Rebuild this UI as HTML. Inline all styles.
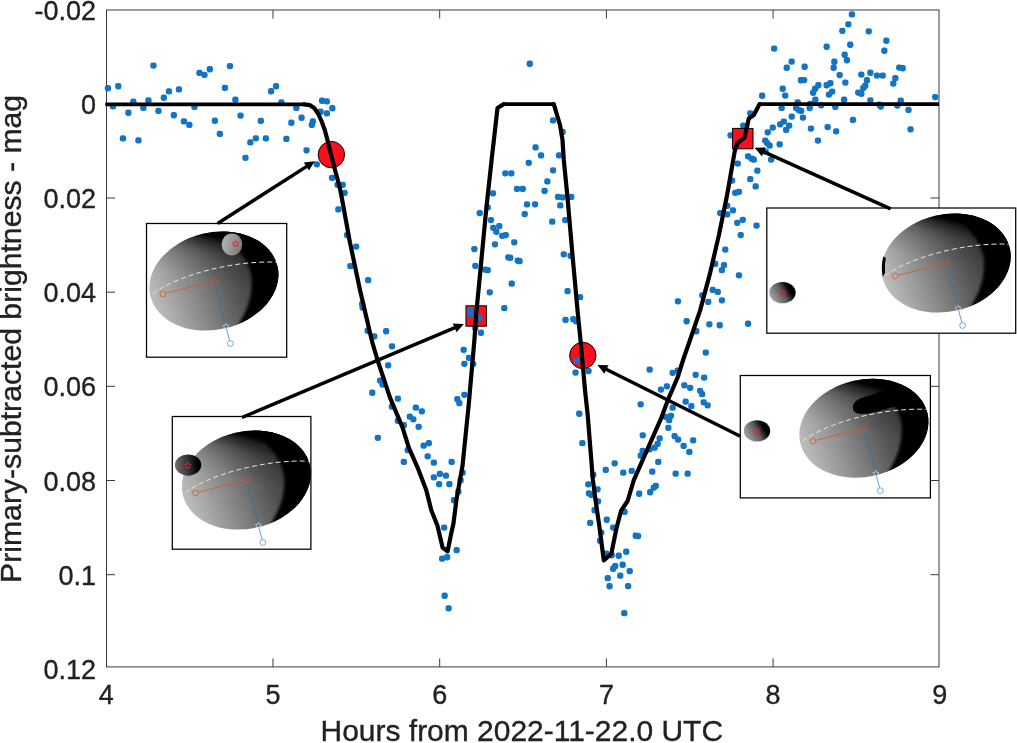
<!DOCTYPE html>
<html lang="en"><head><meta charset="utf-8"><title>Primary-subtracted brightness light curve</title>
<style>html,body{margin:0;padding:0;background:#fff}body{width:1017px;height:743px;overflow:hidden}svg{display:block}text{font-family:"Liberation Sans",Arial,Helvetica,sans-serif;fill:#222;stroke:#222;stroke-width:0.35px}</style></head><body>
<svg width="1017" height="743" viewBox="0 0 1017 743">
<defs>
<linearGradient id="gBody" gradientUnits="userSpaceOnUse" x1="-64" y1="9" x2="42" y2="-7">
<stop offset="0" stop-color="#bebebe"/><stop offset="0.45" stop-color="#808080"/><stop offset="0.75" stop-color="#565656"/><stop offset="1" stop-color="#3c3c3c"/>
</linearGradient>
<linearGradient id="gTop" gradientUnits="userSpaceOnUse" x1="-1" y1="2" x2="20" y2="-40">
<stop offset="0" stop-color="#000" stop-opacity="0"/><stop offset="0.43" stop-color="#000" stop-opacity="0.12"/><stop offset="0.64" stop-color="#000" stop-opacity="0.26"/><stop offset="0.85" stop-color="#000" stop-opacity="0.6"/><stop offset="0.98" stop-color="#000" stop-opacity="1"/>
</linearGradient>
<clipPath id="cBody"><ellipse cx="0" cy="0" rx="65.3" ry="48.5" transform="rotate(-13)"/></clipPath>
<filter id="blur1" x="-20%" y="-20%" width="140%" height="140%"><feGaussianBlur stdDeviation="1.6"/></filter>
<g id="body">
<ellipse cx="0" cy="0" rx="65.3" ry="48.5" transform="rotate(-13)" fill="url(#gBody)"/>
<ellipse cx="0" cy="0" rx="65.3" ry="48.5" transform="rotate(-13)" fill="url(#gTop)"/>
<g clip-path="url(#cBody)"><path d="M -2 -60 C 14 -44, 38 -22, 38 0 C 38 22, 30 36, 19 52 L 90 60 L 90 -70 Z" fill="#000" filter="url(#blur1)"/></g>
</g>
<g id="deco" fill="none">
<path d="M -61 12.5 C -38 -5, 18 -21, 62.5 -18.9" stroke="#e4e4e4" stroke-width="1" stroke-dasharray="5 3"/>
<line x1="-48.2" y1="12.1" x2="-2.8" y2="0.7" stroke="#d95319" stroke-width="0.7"/>
<circle cx="-51" cy="12.8" r="2.9" stroke="#d95319" stroke-width="0.7"/>
<circle cx="0" cy="0" r="2.9" stroke="#d95319" stroke-width="0.7"/>
<line x1="0.7" y1="2.8" x2="15.7" y2="59.6" stroke="#1f77c4" stroke-width="0.7"/>
<circle cx="16.4" cy="62.4" r="2.9" stroke="#3a8ad0" stroke-width="0.7"/>
<path d="M12 42.2 l0.9 2 2.2 0.2 -1.6 1.5 0.5 2.2 -2 -1.1 -2 1.1 0.5 -2.2 -1.6 -1.5 2.2 -0.2z" stroke="#d8d8d8" stroke-width="0.7"/>
</g>
<path id="rstar" d="M0 -3.3 l0.95 2 2.2 0.3 -1.6 1.55 0.4 2.2 -1.95 -1.05 -1.95 1.05 0.4 -2.2 -1.6 -1.55 2.2 -0.3z" fill="none" stroke="#e02030" stroke-width="0.9"/>
<linearGradient id="gS1" x1="0" y1="0.3" x2="1" y2="0.6"><stop offset="0" stop-color="#b4b4b4"/><stop offset="1" stop-color="#7a7a7a"/></linearGradient>
<linearGradient id="gS2" x1="0" y1="0.75" x2="1" y2="0.3"><stop offset="0" stop-color="#acacac"/><stop offset="0.5" stop-color="#5e5e5e"/><stop offset="0.66" stop-color="#2a2a2a"/><stop offset="0.78" stop-color="#000"/></linearGradient>
<linearGradient id="gS3" x1="0" y1="0.5" x2="1" y2="0.4"><stop offset="0" stop-color="#6e6e6e"/><stop offset="0.5" stop-color="#333"/><stop offset="0.85" stop-color="#000"/></linearGradient>
</defs>
<rect x="0" y="0" width="1017" height="743" fill="#fff"/>
<g stroke="#3a3a3a" stroke-width="1" fill="none">
<rect x="106.5" y="10.0" width="832.5" height="656.9"/>
<line x1="273.0" y1="666.9" x2="273.0" y2="658.4"/>
<line x1="273.0" y1="10.0" x2="273.0" y2="18.5"/>
<line x1="439.7" y1="666.9" x2="439.7" y2="658.4"/>
<line x1="439.7" y1="10.0" x2="439.7" y2="18.5"/>
<line x1="606.4" y1="666.9" x2="606.4" y2="658.4"/>
<line x1="606.4" y1="10.0" x2="606.4" y2="18.5"/>
<line x1="773.1" y1="666.9" x2="773.1" y2="658.4"/>
<line x1="773.1" y1="10.0" x2="773.1" y2="18.5"/>
<line x1="106.5" y1="103.8" x2="115.0" y2="103.8"/>
<line x1="939.0" y1="103.8" x2="930.5" y2="103.8"/>
<line x1="106.5" y1="198.0" x2="115.0" y2="198.0"/>
<line x1="939.0" y1="198.0" x2="930.5" y2="198.0"/>
<line x1="106.5" y1="292.2" x2="115.0" y2="292.2"/>
<line x1="939.0" y1="292.2" x2="930.5" y2="292.2"/>
<line x1="106.5" y1="386.3" x2="115.0" y2="386.3"/>
<line x1="939.0" y1="386.3" x2="930.5" y2="386.3"/>
<line x1="106.5" y1="480.5" x2="115.0" y2="480.5"/>
<line x1="939.0" y1="480.5" x2="930.5" y2="480.5"/>
<line x1="106.5" y1="574.7" x2="115.0" y2="574.7"/>
<line x1="939.0" y1="574.7" x2="930.5" y2="574.7"/>
</g>
<g font-size="27.0">
<text x="106.3" y="703.6" text-anchor="middle">4</text>
<text x="273.0" y="703.6" text-anchor="middle">5</text>
<text x="439.7" y="703.6" text-anchor="middle">6</text>
<text x="606.4" y="703.6" text-anchor="middle">7</text>
<text x="773.1" y="703.6" text-anchor="middle">8</text>
<text x="939.8" y="703.6" text-anchor="middle">9</text>
<text x="96.0" y="19.6" text-anchor="end">-0.02</text>
<text x="96.0" y="113.8" text-anchor="end">0</text>
<text x="96.0" y="208.0" text-anchor="end">0.02</text>
<text x="96.0" y="302.2" text-anchor="end">0.04</text>
<text x="96.0" y="396.3" text-anchor="end">0.06</text>
<text x="96.0" y="490.5" text-anchor="end">0.08</text>
<text x="96.0" y="584.7" text-anchor="end">0.1</text>
<text x="96.0" y="678.9" text-anchor="end">0.12</text>
</g>
<text x="521.8" y="740.6" font-size="30" text-anchor="middle" textLength="402.5" lengthAdjust="spacingAndGlyphs">Hours from 2022-11-22.0 UTC</text>
<text transform="translate(21.2 338.9) rotate(-90)" font-size="30" text-anchor="middle" textLength="488" lengthAdjust="spacingAndGlyphs">Primary-subtracted brightness - mag</text>
<g fill="#1374c4">
<rect x="104.8" y="85.1" width="6.3" height="6.3" rx="2.4"/>
<rect x="115.1" y="83.1" width="6.3" height="6.3" rx="2.4"/>
<rect x="109.8" y="103.3" width="6.3" height="6.3" rx="2.4"/>
<rect x="119.8" y="135.3" width="6.3" height="6.3" rx="2.4"/>
<rect x="125.2" y="109.6" width="6.3" height="6.3" rx="2.4"/>
<rect x="130.2" y="98.6" width="6.3" height="6.3" rx="2.4"/>
<rect x="135.3" y="137.3" width="6.3" height="6.3" rx="2.4"/>
<rect x="140.2" y="104.8" width="6.3" height="6.3" rx="2.4"/>
<rect x="145.3" y="97.3" width="6.3" height="6.3" rx="2.4"/>
<rect x="150.3" y="62.4" width="6.3" height="6.3" rx="2.4"/>
<rect x="155.3" y="107.8" width="6.3" height="6.3" rx="2.4"/>
<rect x="160.7" y="94.6" width="6.3" height="6.3" rx="2.4"/>
<rect x="165.8" y="88.3" width="6.3" height="6.3" rx="2.4"/>
<rect x="170.7" y="112.1" width="6.3" height="6.3" rx="2.4"/>
<rect x="175.8" y="86.3" width="6.3" height="6.3" rx="2.4"/>
<rect x="180.8" y="118.3" width="6.3" height="6.3" rx="2.4"/>
<rect x="186.2" y="121.8" width="6.3" height="6.3" rx="2.4"/>
<rect x="191.3" y="103.8" width="6.3" height="6.3" rx="2.4"/>
<rect x="196.3" y="69.8" width="6.3" height="6.3" rx="2.4"/>
<rect x="201.3" y="71.8" width="6.3" height="6.3" rx="2.4"/>
<rect x="206.7" y="66.1" width="6.3" height="6.3" rx="2.4"/>
<rect x="211.7" y="117.6" width="6.3" height="6.3" rx="2.4"/>
<rect x="216.7" y="130.8" width="6.3" height="6.3" rx="2.4"/>
<rect x="221.8" y="84.8" width="6.3" height="6.3" rx="2.4"/>
<rect x="226.8" y="62.9" width="6.3" height="6.3" rx="2.4"/>
<rect x="232.2" y="96.6" width="6.3" height="6.3" rx="2.4"/>
<rect x="237.4" y="112.4" width="6.3" height="6.3" rx="2.4"/>
<rect x="242.3" y="154.7" width="6.3" height="6.3" rx="2.4"/>
<rect x="247.2" y="139.3" width="6.3" height="6.3" rx="2.4"/>
<rect x="252.7" y="135.2" width="6.3" height="6.3" rx="2.4"/>
<rect x="257.7" y="117.8" width="6.3" height="6.3" rx="2.4"/>
<rect x="262.7" y="135.3" width="6.3" height="6.3" rx="2.4"/>
<rect x="267.9" y="88.1" width="6.3" height="6.3" rx="2.4"/>
<rect x="272.9" y="83.1" width="6.3" height="6.3" rx="2.4"/>
<rect x="278.2" y="99.3" width="6.3" height="6.3" rx="2.4"/>
<rect x="283.2" y="135.8" width="6.3" height="6.3" rx="2.4"/>
<rect x="288.2" y="119.6" width="6.3" height="6.3" rx="2.4"/>
<rect x="293.2" y="104.8" width="6.3" height="6.3" rx="2.4"/>
<rect x="298.4" y="114.6" width="6.3" height="6.3" rx="2.4"/>
<rect x="303.4" y="147.2" width="6.3" height="6.3" rx="2.4"/>
<rect x="308.7" y="121.8" width="6.3" height="6.3" rx="2.4"/>
<rect x="309.7" y="118.3" width="6.3" height="6.3" rx="2.4"/>
<rect x="313.7" y="161.2" width="6.3" height="6.3" rx="2.4"/>
<rect x="317.4" y="108.6" width="6.3" height="6.3" rx="2.4"/>
<rect x="318.9" y="97.6" width="6.3" height="6.3" rx="2.4"/>
<rect x="323.7" y="98.3" width="6.3" height="6.3" rx="2.4"/>
<rect x="323.7" y="110.3" width="6.3" height="6.3" rx="2.4"/>
<rect x="329.2" y="105.1" width="6.3" height="6.3" rx="2.4"/>
<rect x="328.9" y="174.8" width="6.3" height="6.3" rx="2.4"/>
<rect x="334.4" y="181.7" width="6.3" height="6.3" rx="2.4"/>
<rect x="339.6" y="181.7" width="6.3" height="6.3" rx="2.4"/>
<rect x="526.6" y="60.6" width="6.3" height="6.3" rx="2.4"/>
<rect x="549.9" y="117.3" width="6.3" height="6.3" rx="2.4"/>
<rect x="559.4" y="128.8" width="6.3" height="6.3" rx="2.4"/>
<rect x="532.4" y="144.3" width="6.3" height="6.3" rx="2.4"/>
<rect x="537.9" y="152.3" width="6.3" height="6.3" rx="2.4"/>
<rect x="555.9" y="152.3" width="6.3" height="6.3" rx="2.4"/>
<rect x="525.6" y="159.7" width="6.3" height="6.3" rx="2.4"/>
<rect x="549.9" y="167.2" width="6.3" height="6.3" rx="2.4"/>
<rect x="502.2" y="170.2" width="6.3" height="6.3" rx="2.4"/>
<rect x="508.2" y="170.2" width="6.3" height="6.3" rx="2.4"/>
<rect x="544.2" y="178.3" width="6.3" height="6.3" rx="2.4"/>
<rect x="848.8" y="11.3" width="6.3" height="6.3" rx="2.4"/>
<rect x="845.2" y="21.2" width="6.3" height="6.3" rx="2.4"/>
<rect x="839.2" y="27.7" width="6.3" height="6.3" rx="2.4"/>
<rect x="865.6" y="28.2" width="6.3" height="6.3" rx="2.4"/>
<rect x="883.2" y="37.6" width="6.3" height="6.3" rx="2.4"/>
<rect x="847.1" y="41.6" width="6.3" height="6.3" rx="2.4"/>
<rect x="823.5" y="43.6" width="6.3" height="6.3" rx="2.4"/>
<rect x="771.0" y="45.4" width="6.3" height="6.3" rx="2.4"/>
<rect x="881.2" y="47.6" width="6.3" height="6.3" rx="2.4"/>
<rect x="841.5" y="51.6" width="6.3" height="6.3" rx="2.4"/>
<rect x="843.8" y="57.1" width="6.3" height="6.3" rx="2.4"/>
<rect x="831.2" y="58.6" width="6.3" height="6.3" rx="2.4"/>
<rect x="788.5" y="58.5" width="6.3" height="6.3" rx="2.4"/>
<rect x="801.5" y="63.6" width="6.3" height="6.3" rx="2.4"/>
<rect x="783.6" y="64.6" width="6.3" height="6.3" rx="2.4"/>
<rect x="830.5" y="64.6" width="6.3" height="6.3" rx="2.4"/>
<rect x="896.1" y="64.4" width="6.3" height="6.3" rx="2.4"/>
<rect x="899.6" y="65.1" width="6.3" height="6.3" rx="2.4"/>
<rect x="867.2" y="69.6" width="6.3" height="6.3" rx="2.4"/>
<rect x="858.2" y="71.4" width="6.3" height="6.3" rx="2.4"/>
<rect x="836.5" y="71.9" width="6.3" height="6.3" rx="2.4"/>
<rect x="873.8" y="72.4" width="6.3" height="6.3" rx="2.4"/>
<rect x="879.6" y="72.4" width="6.3" height="6.3" rx="2.4"/>
<rect x="892.2" y="75.1" width="6.3" height="6.3" rx="2.4"/>
<rect x="797.8" y="77.1" width="6.3" height="6.3" rx="2.4"/>
<rect x="801.0" y="76.9" width="6.3" height="6.3" rx="2.4"/>
<rect x="863.8" y="77.1" width="6.3" height="6.3" rx="2.4"/>
<rect x="842.2" y="79.4" width="6.3" height="6.3" rx="2.4"/>
<rect x="827.2" y="80.1" width="6.3" height="6.3" rx="2.4"/>
<rect x="890.1" y="80.4" width="6.3" height="6.3" rx="2.4"/>
<rect x="815.2" y="82.1" width="6.3" height="6.3" rx="2.4"/>
<rect x="823.5" y="82.1" width="6.3" height="6.3" rx="2.4"/>
<rect x="862.1" y="82.6" width="6.3" height="6.3" rx="2.4"/>
<rect x="779.6" y="85.6" width="6.3" height="6.3" rx="2.4"/>
<rect x="812.0" y="85.6" width="6.3" height="6.3" rx="2.4"/>
<rect x="860.1" y="84.9" width="6.3" height="6.3" rx="2.4"/>
<rect x="829.0" y="88.4" width="6.3" height="6.3" rx="2.4"/>
<rect x="810.0" y="89.6" width="6.3" height="6.3" rx="2.4"/>
<rect x="855.1" y="89.4" width="6.3" height="6.3" rx="2.4"/>
<rect x="858.2" y="90.6" width="6.3" height="6.3" rx="2.4"/>
<rect x="825.8" y="91.4" width="6.3" height="6.3" rx="2.4"/>
<rect x="759.0" y="92.6" width="6.3" height="6.3" rx="2.4"/>
<rect x="782.1" y="92.4" width="6.3" height="6.3" rx="2.4"/>
<rect x="932.1" y="93.9" width="6.3" height="6.3" rx="2.4"/>
<rect x="812.2" y="96.4" width="6.3" height="6.3" rx="2.4"/>
<rect x="841.0" y="96.6" width="6.3" height="6.3" rx="2.4"/>
<rect x="867.2" y="97.2" width="6.3" height="6.3" rx="2.4"/>
<rect x="897.6" y="97.4" width="6.3" height="6.3" rx="2.4"/>
<rect x="794.5" y="99.2" width="6.3" height="6.3" rx="2.4"/>
<rect x="807.2" y="100.8" width="6.3" height="6.3" rx="2.4"/>
<rect x="818.0" y="102.2" width="6.3" height="6.3" rx="2.4"/>
<rect x="876.1" y="101.4" width="6.3" height="6.3" rx="2.4"/>
<rect x="877.6" y="103.4" width="6.3" height="6.3" rx="2.4"/>
<rect x="894.1" y="102.4" width="6.3" height="6.3" rx="2.4"/>
<rect x="832.2" y="103.8" width="6.3" height="6.3" rx="2.4"/>
<rect x="778.5" y="104.8" width="6.3" height="6.3" rx="2.4"/>
<rect x="793.0" y="104.8" width="6.3" height="6.3" rx="2.4"/>
<rect x="806.5" y="104.9" width="6.3" height="6.3" rx="2.4"/>
<rect x="795.6" y="106.9" width="6.3" height="6.3" rx="2.4"/>
<rect x="798.0" y="107.8" width="6.3" height="6.3" rx="2.4"/>
<rect x="905.4" y="106.8" width="6.3" height="6.3" rx="2.4"/>
<rect x="747.1" y="110.2" width="6.3" height="6.3" rx="2.4"/>
<rect x="788.6" y="113.4" width="6.3" height="6.3" rx="2.4"/>
<rect x="799.8" y="114.4" width="6.3" height="6.3" rx="2.4"/>
<rect x="849.8" y="116.8" width="6.3" height="6.3" rx="2.4"/>
<rect x="780.6" y="118.4" width="6.3" height="6.3" rx="2.4"/>
<rect x="777.0" y="121.2" width="6.3" height="6.3" rx="2.4"/>
<rect x="740.1" y="122.4" width="6.3" height="6.3" rx="2.4"/>
<rect x="786.0" y="122.4" width="6.3" height="6.3" rx="2.4"/>
<rect x="769.6" y="124.4" width="6.3" height="6.3" rx="2.4"/>
<rect x="824.5" y="123.9" width="6.3" height="6.3" rx="2.4"/>
<rect x="807.8" y="125.4" width="6.3" height="6.3" rx="2.4"/>
<rect x="783.0" y="126.8" width="6.3" height="6.3" rx="2.4"/>
<rect x="907.4" y="126.2" width="6.3" height="6.3" rx="2.4"/>
<rect x="833.0" y="128.2" width="6.3" height="6.3" rx="2.4"/>
<rect x="764.6" y="129.2" width="6.3" height="6.3" rx="2.4"/>
<rect x="727.4" y="132.2" width="6.3" height="6.3" rx="2.4"/>
<rect x="814.8" y="137.4" width="6.3" height="6.3" rx="2.4"/>
<rect x="762.1" y="137.4" width="6.3" height="6.3" rx="2.4"/>
<rect x="764.0" y="139.9" width="6.3" height="6.3" rx="2.4"/>
<rect x="766.5" y="142.4" width="6.3" height="6.3" rx="2.4"/>
<rect x="776.5" y="141.2" width="6.3" height="6.3" rx="2.4"/>
<rect x="762.5" y="148.5" width="6.3" height="6.3" rx="2.4"/>
<rect x="744.9" y="153.2" width="6.3" height="6.3" rx="2.4"/>
<rect x="748.6" y="155.5" width="6.3" height="6.3" rx="2.4"/>
<rect x="750.6" y="156.5" width="6.3" height="6.3" rx="2.4"/>
<rect x="768.0" y="156.4" width="6.3" height="6.3" rx="2.4"/>
<rect x="734.6" y="160.4" width="6.3" height="6.3" rx="2.4"/>
<rect x="754.2" y="167.5" width="6.3" height="6.3" rx="2.4"/>
<rect x="747.1" y="176.0" width="6.3" height="6.3" rx="2.4"/>
<rect x="728.9" y="177.4" width="6.3" height="6.3" rx="2.4"/>
<rect x="752.5" y="183.3" width="6.3" height="6.3" rx="2.4"/>
<rect x="341.4" y="189.8" width="6.3" height="6.3" rx="2.4"/>
<rect x="335.2" y="206.3" width="6.3" height="6.3" rx="2.4"/>
<rect x="343.9" y="231.9" width="6.3" height="6.3" rx="2.4"/>
<rect x="353.0" y="243.4" width="6.3" height="6.3" rx="2.4"/>
<rect x="347.2" y="263.0" width="6.3" height="6.3" rx="2.4"/>
<rect x="365.0" y="277.0" width="6.3" height="6.3" rx="2.4"/>
<rect x="359.0" y="300.8" width="6.3" height="6.3" rx="2.4"/>
<rect x="359.5" y="304.5" width="6.3" height="6.3" rx="2.4"/>
<rect x="364.5" y="327.6" width="6.3" height="6.3" rx="2.4"/>
<rect x="383.0" y="328.1" width="6.3" height="6.3" rx="2.4"/>
<rect x="371.2" y="333.2" width="6.3" height="6.3" rx="2.4"/>
<rect x="388.9" y="343.2" width="6.3" height="6.3" rx="2.4"/>
<rect x="513.9" y="185.8" width="6.3" height="6.3" rx="2.4"/>
<rect x="519.6" y="185.8" width="6.3" height="6.3" rx="2.4"/>
<rect x="541.4" y="187.8" width="6.3" height="6.3" rx="2.4"/>
<rect x="489.8" y="190.2" width="6.3" height="6.3" rx="2.4"/>
<rect x="523.9" y="201.3" width="6.3" height="6.3" rx="2.4"/>
<rect x="531.9" y="201.2" width="6.3" height="6.3" rx="2.4"/>
<rect x="484.6" y="204.3" width="6.3" height="6.3" rx="2.4"/>
<rect x="476.6" y="209.9" width="6.3" height="6.3" rx="2.4"/>
<rect x="521.6" y="210.9" width="6.3" height="6.3" rx="2.4"/>
<rect x="549.1" y="218.5" width="6.3" height="6.3" rx="2.4"/>
<rect x="487.8" y="216.9" width="6.3" height="6.3" rx="2.4"/>
<rect x="490.1" y="224.7" width="6.3" height="6.3" rx="2.4"/>
<rect x="496.1" y="222.9" width="6.3" height="6.3" rx="2.4"/>
<rect x="493.2" y="228.7" width="6.3" height="6.3" rx="2.4"/>
<rect x="499.1" y="232.7" width="6.3" height="6.3" rx="2.4"/>
<rect x="502.6" y="231.9" width="6.3" height="6.3" rx="2.4"/>
<rect x="511.1" y="239.2" width="6.3" height="6.3" rx="2.4"/>
<rect x="491.8" y="241.2" width="6.3" height="6.3" rx="2.4"/>
<rect x="471.2" y="245.9" width="6.3" height="6.3" rx="2.4"/>
<rect x="505.1" y="254.2" width="6.3" height="6.3" rx="2.4"/>
<rect x="507.1" y="254.7" width="6.3" height="6.3" rx="2.4"/>
<rect x="514.6" y="257.5" width="6.3" height="6.3" rx="2.4"/>
<rect x="516.4" y="258.0" width="6.3" height="6.3" rx="2.4"/>
<rect x="472.2" y="262.8" width="6.3" height="6.3" rx="2.4"/>
<rect x="482.1" y="266.5" width="6.3" height="6.3" rx="2.4"/>
<rect x="484.6" y="267.0" width="6.3" height="6.3" rx="2.4"/>
<rect x="508.6" y="280.5" width="6.3" height="6.3" rx="2.4"/>
<rect x="486.6" y="289.2" width="6.3" height="6.3" rx="2.4"/>
<rect x="501.1" y="305.0" width="6.3" height="6.3" rx="2.4"/>
<rect x="466.8" y="306.7" width="6.3" height="6.3" rx="2.4"/>
<rect x="466.8" y="310.9" width="6.3" height="6.3" rx="2.4"/>
<rect x="476.2" y="314.6" width="6.3" height="6.3" rx="2.4"/>
<rect x="477.8" y="329.6" width="6.3" height="6.3" rx="2.4"/>
<rect x="472.1" y="324.9" width="6.3" height="6.3" rx="2.4"/>
<rect x="554.9" y="193.8" width="6.3" height="6.3" rx="2.4"/>
<rect x="559.4" y="194.3" width="6.3" height="6.3" rx="2.4"/>
<rect x="568.1" y="193.8" width="6.3" height="6.3" rx="2.4"/>
<rect x="557.1" y="202.3" width="6.3" height="6.3" rx="2.4"/>
<rect x="562.1" y="216.9" width="6.3" height="6.3" rx="2.4"/>
<rect x="560.6" y="251.2" width="6.3" height="6.3" rx="2.4"/>
<rect x="567.4" y="252.7" width="6.3" height="6.3" rx="2.4"/>
<rect x="564.4" y="288.0" width="6.3" height="6.3" rx="2.4"/>
<rect x="576.9" y="294.0" width="6.3" height="6.3" rx="2.4"/>
<rect x="562.4" y="316.8" width="6.3" height="6.3" rx="2.4"/>
<rect x="570.1" y="316.1" width="6.3" height="6.3" rx="2.4"/>
<rect x="573.1" y="318.2" width="6.3" height="6.3" rx="2.4"/>
<rect x="732.1" y="189.7" width="6.3" height="6.3" rx="2.4"/>
<rect x="735.8" y="188.7" width="6.3" height="6.3" rx="2.4"/>
<rect x="724.1" y="202.7" width="6.3" height="6.3" rx="2.4"/>
<rect x="729.8" y="207.2" width="6.3" height="6.3" rx="2.4"/>
<rect x="717.1" y="209.9" width="6.3" height="6.3" rx="2.4"/>
<rect x="724.1" y="211.2" width="6.3" height="6.3" rx="2.4"/>
<rect x="739.6" y="216.7" width="6.3" height="6.3" rx="2.4"/>
<rect x="734.1" y="219.7" width="6.3" height="6.3" rx="2.4"/>
<rect x="753.4" y="222.4" width="6.3" height="6.3" rx="2.4"/>
<rect x="737.6" y="231.9" width="6.3" height="6.3" rx="2.4"/>
<rect x="722.1" y="246.4" width="6.3" height="6.3" rx="2.4"/>
<rect x="712.1" y="260.8" width="6.3" height="6.3" rx="2.4"/>
<rect x="720.8" y="262.0" width="6.3" height="6.3" rx="2.4"/>
<rect x="718.8" y="267.0" width="6.3" height="6.3" rx="2.4"/>
<rect x="735.8" y="272.2" width="6.3" height="6.3" rx="2.4"/>
<rect x="709.6" y="286.8" width="6.3" height="6.3" rx="2.4"/>
<rect x="714.6" y="288.8" width="6.3" height="6.3" rx="2.4"/>
<rect x="699.1" y="292.2" width="6.3" height="6.3" rx="2.4"/>
<rect x="674.8" y="298.2" width="6.3" height="6.3" rx="2.4"/>
<rect x="705.1" y="298.8" width="6.3" height="6.3" rx="2.4"/>
<rect x="718.8" y="297.2" width="6.3" height="6.3" rx="2.4"/>
<rect x="683.5" y="318.1" width="6.3" height="6.3" rx="2.4"/>
<rect x="706.2" y="321.2" width="6.3" height="6.3" rx="2.4"/>
<rect x="716.6" y="322.1" width="6.3" height="6.3" rx="2.4"/>
<rect x="744.9" y="320.6" width="6.3" height="6.3" rx="2.4"/>
<rect x="693.2" y="328.1" width="6.3" height="6.3" rx="2.4"/>
<rect x="385.0" y="362.2" width="6.3" height="6.3" rx="2.4"/>
<rect x="376.9" y="377.4" width="6.3" height="6.3" rx="2.4"/>
<rect x="379.4" y="381.4" width="6.3" height="6.3" rx="2.4"/>
<rect x="369.1" y="389.6" width="6.3" height="6.3" rx="2.4"/>
<rect x="394.7" y="395.5" width="6.3" height="6.3" rx="2.4"/>
<rect x="388.7" y="403.5" width="6.3" height="6.3" rx="2.4"/>
<rect x="412.7" y="404.5" width="6.3" height="6.3" rx="2.4"/>
<rect x="418.7" y="408.2" width="6.3" height="6.3" rx="2.4"/>
<rect x="406.7" y="413.5" width="6.3" height="6.3" rx="2.4"/>
<rect x="410.2" y="416.2" width="6.3" height="6.3" rx="2.4"/>
<rect x="394.7" y="417.7" width="6.3" height="6.3" rx="2.4"/>
<rect x="400.7" y="422.0" width="6.3" height="6.3" rx="2.4"/>
<rect x="415.5" y="423.7" width="6.3" height="6.3" rx="2.4"/>
<rect x="374.7" y="434.7" width="6.3" height="6.3" rx="2.4"/>
<rect x="425.7" y="440.0" width="6.3" height="6.3" rx="2.4"/>
<rect x="420.5" y="442.5" width="6.3" height="6.3" rx="2.4"/>
<rect x="404.5" y="447.0" width="6.3" height="6.3" rx="2.4"/>
<rect x="424.5" y="453.2" width="6.3" height="6.3" rx="2.4"/>
<rect x="400.7" y="458.8" width="6.3" height="6.3" rx="2.4"/>
<rect x="430.7" y="459.5" width="6.3" height="6.3" rx="2.4"/>
<rect x="448.5" y="458.8" width="6.3" height="6.3" rx="2.4"/>
<rect x="436.7" y="470.8" width="6.3" height="6.3" rx="2.4"/>
<rect x="442.8" y="472.5" width="6.3" height="6.3" rx="2.4"/>
<rect x="430.7" y="474.2" width="6.3" height="6.3" rx="2.4"/>
<rect x="459.5" y="469.5" width="6.3" height="6.3" rx="2.4"/>
<rect x="457.5" y="477.0" width="6.3" height="6.3" rx="2.4"/>
<rect x="436.0" y="481.0" width="6.3" height="6.3" rx="2.4"/>
<rect x="446.2" y="481.0" width="6.3" height="6.3" rx="2.4"/>
<rect x="455.2" y="488.5" width="6.3" height="6.3" rx="2.4"/>
<rect x="450.8" y="497.1" width="6.3" height="6.3" rx="2.4"/>
<rect x="460.5" y="346.7" width="6.3" height="6.3" rx="2.4"/>
<rect x="465.8" y="354.7" width="6.3" height="6.3" rx="2.4"/>
<rect x="461.2" y="360.7" width="6.3" height="6.3" rx="2.4"/>
<rect x="470.0" y="360.9" width="6.3" height="6.3" rx="2.4"/>
<rect x="461.2" y="391.7" width="6.3" height="6.3" rx="2.4"/>
<rect x="454.2" y="396.0" width="6.3" height="6.3" rx="2.4"/>
<rect x="456.2" y="400.0" width="6.3" height="6.3" rx="2.4"/>
<rect x="573.8" y="357.7" width="6.3" height="6.3" rx="2.4"/>
<rect x="572.4" y="369.4" width="6.3" height="6.3" rx="2.4"/>
<rect x="585.4" y="367.9" width="6.3" height="6.3" rx="2.4"/>
<rect x="576.1" y="410.6" width="6.3" height="6.3" rx="2.4"/>
<rect x="579.2" y="440.0" width="6.3" height="6.3" rx="2.4"/>
<rect x="590.1" y="471.5" width="6.3" height="6.3" rx="2.4"/>
<rect x="585.1" y="481.2" width="6.3" height="6.3" rx="2.4"/>
<rect x="594.4" y="486.2" width="6.3" height="6.3" rx="2.4"/>
<rect x="585.8" y="490.2" width="6.3" height="6.3" rx="2.4"/>
<rect x="588.1" y="491.6" width="6.3" height="6.3" rx="2.4"/>
<rect x="594.9" y="498.2" width="6.3" height="6.3" rx="2.4"/>
<rect x="591.4" y="507.1" width="6.3" height="6.3" rx="2.4"/>
<rect x="587.0" y="519.8" width="6.3" height="6.3" rx="2.4"/>
<rect x="603.6" y="516.6" width="6.3" height="6.3" rx="2.4"/>
<rect x="621.5" y="508.8" width="6.3" height="6.3" rx="2.4"/>
<rect x="702.6" y="349.4" width="6.3" height="6.3" rx="2.4"/>
<rect x="646.5" y="366.4" width="6.3" height="6.3" rx="2.4"/>
<rect x="669.5" y="369.7" width="6.3" height="6.3" rx="2.4"/>
<rect x="674.5" y="367.4" width="6.3" height="6.3" rx="2.4"/>
<rect x="692.5" y="371.7" width="6.3" height="6.3" rx="2.4"/>
<rect x="701.0" y="374.4" width="6.3" height="6.3" rx="2.4"/>
<rect x="663.8" y="383.2" width="6.3" height="6.3" rx="2.4"/>
<rect x="657.8" y="386.4" width="6.3" height="6.3" rx="2.4"/>
<rect x="681.2" y="382.2" width="6.3" height="6.3" rx="2.4"/>
<rect x="687.0" y="384.7" width="6.3" height="6.3" rx="2.4"/>
<rect x="697.0" y="387.7" width="6.3" height="6.3" rx="2.4"/>
<rect x="699.0" y="391.0" width="6.3" height="6.3" rx="2.4"/>
<rect x="682.5" y="398.5" width="6.3" height="6.3" rx="2.4"/>
<rect x="700.5" y="399.2" width="6.3" height="6.3" rx="2.4"/>
<rect x="704.5" y="402.2" width="6.3" height="6.3" rx="2.4"/>
<rect x="688.2" y="403.0" width="6.3" height="6.3" rx="2.4"/>
<rect x="637.5" y="401.2" width="6.3" height="6.3" rx="2.4"/>
<rect x="669.5" y="404.5" width="6.3" height="6.3" rx="2.4"/>
<rect x="667.8" y="412.7" width="6.3" height="6.3" rx="2.4"/>
<rect x="662.5" y="413.7" width="6.3" height="6.3" rx="2.4"/>
<rect x="666.0" y="417.0" width="6.3" height="6.3" rx="2.4"/>
<rect x="665.2" y="424.7" width="6.3" height="6.3" rx="2.4"/>
<rect x="639.6" y="432.2" width="6.3" height="6.3" rx="2.4"/>
<rect x="671.5" y="433.0" width="6.3" height="6.3" rx="2.4"/>
<rect x="656.5" y="435.2" width="6.3" height="6.3" rx="2.4"/>
<rect x="675.0" y="436.5" width="6.3" height="6.3" rx="2.4"/>
<rect x="690.0" y="437.2" width="6.3" height="6.3" rx="2.4"/>
<rect x="654.5" y="440.7" width="6.3" height="6.3" rx="2.4"/>
<rect x="680.5" y="442.8" width="6.3" height="6.3" rx="2.4"/>
<rect x="651.5" y="444.5" width="6.3" height="6.3" rx="2.4"/>
<rect x="646.5" y="446.2" width="6.3" height="6.3" rx="2.4"/>
<rect x="639.5" y="447.8" width="6.3" height="6.3" rx="2.4"/>
<rect x="686.2" y="448.8" width="6.3" height="6.3" rx="2.4"/>
<rect x="637.5" y="452.5" width="6.3" height="6.3" rx="2.4"/>
<rect x="655.1" y="458.8" width="6.3" height="6.3" rx="2.4"/>
<rect x="611.5" y="460.2" width="6.3" height="6.3" rx="2.4"/>
<rect x="602.6" y="466.8" width="6.3" height="6.3" rx="2.4"/>
<rect x="620.1" y="469.5" width="6.3" height="6.3" rx="2.4"/>
<rect x="628.6" y="467.8" width="6.3" height="6.3" rx="2.4"/>
<rect x="649.1" y="468.5" width="6.3" height="6.3" rx="2.4"/>
<rect x="672.5" y="470.5" width="6.3" height="6.3" rx="2.4"/>
<rect x="684.5" y="470.5" width="6.3" height="6.3" rx="2.4"/>
<rect x="652.6" y="482.8" width="6.3" height="6.3" rx="2.4"/>
<rect x="650.6" y="484.5" width="6.3" height="6.3" rx="2.4"/>
<rect x="647.0" y="489.1" width="6.3" height="6.3" rx="2.4"/>
<rect x="636.0" y="490.6" width="6.3" height="6.3" rx="2.4"/>
<rect x="441.0" y="524.4" width="6.3" height="6.3" rx="2.4"/>
<rect x="453.5" y="547.0" width="6.3" height="6.3" rx="2.4"/>
<rect x="444.0" y="554.1" width="6.3" height="6.3" rx="2.4"/>
<rect x="439.0" y="555.5" width="6.3" height="6.3" rx="2.4"/>
<rect x="441.5" y="592.6" width="6.3" height="6.3" rx="2.4"/>
<rect x="445.5" y="605.2" width="6.3" height="6.3" rx="2.4"/>
<rect x="610.0" y="524.4" width="6.3" height="6.3" rx="2.4"/>
<rect x="598.1" y="529.4" width="6.3" height="6.3" rx="2.4"/>
<rect x="632.6" y="532.6" width="6.3" height="6.3" rx="2.4"/>
<rect x="635.0" y="532.9" width="6.3" height="6.3" rx="2.4"/>
<rect x="596.9" y="537.6" width="6.3" height="6.3" rx="2.4"/>
<rect x="623.1" y="548.6" width="6.3" height="6.3" rx="2.4"/>
<rect x="603.1" y="550.6" width="6.3" height="6.3" rx="2.4"/>
<rect x="608.6" y="552.1" width="6.3" height="6.3" rx="2.4"/>
<rect x="615.6" y="552.6" width="6.3" height="6.3" rx="2.4"/>
<rect x="619.5" y="561.6" width="6.3" height="6.3" rx="2.4"/>
<rect x="612.0" y="563.0" width="6.3" height="6.3" rx="2.4"/>
<rect x="610.0" y="565.6" width="6.3" height="6.3" rx="2.4"/>
<rect x="626.6" y="568.0" width="6.3" height="6.3" rx="2.4"/>
<rect x="617.1" y="572.5" width="6.3" height="6.3" rx="2.4"/>
<rect x="604.6" y="575.0" width="6.3" height="6.3" rx="2.4"/>
<rect x="606.4" y="583.1" width="6.3" height="6.3" rx="2.4"/>
<rect x="625.0" y="583.0" width="6.3" height="6.3" rx="2.4"/>
<rect x="621.1" y="610.0" width="6.3" height="6.3" rx="2.4"/>
</g>
<g fill="#fb0f1e" stroke="#000" stroke-width="1">
<circle cx="331.4" cy="154.6" r="13.2"/>
<circle cx="582.8" cy="355.5" r="13.2"/>
<rect x="466" y="305.8" width="20.4" height="20.4"/>
<rect x="732.6" y="128.4" width="20.4" height="20.4"/>
</g>
<g fill="#1374c4">
<rect x="466.8" y="306.7" width="6.3" height="6.3" rx="2.4"/>
<rect x="466.8" y="310.9" width="6.3" height="6.3" rx="2.4"/>
<rect x="476.2" y="314.6" width="6.3" height="6.3" rx="2.4"/>
<rect x="573.8" y="357.7" width="6.3" height="6.3" rx="2.4"/>
</g>
<polyline fill="none" stroke="#000" stroke-width="4.2" stroke-linejoin="round" stroke-linecap="round" points="304.0,104.3 310.0,105.2 314.5,108.3 318.3,114.0 321.5,121.0 324.8,130.0 327.7,141.0 331.0,154.6 334.5,168.0 339.3,186.0 340.8,192.5 350.0,242.6 360.0,290.0 370.0,332.7 372.5,343.0 377.5,360.0 390.0,397.6 402.6,427.6 408.8,447.6 417.6,467.6 426.3,490.2 431.3,510.2 437.4,525.5 442.6,547.5 447.6,551.3 451.4,532.5 453.4,524.0 456.4,500.0 462.6,465.1 468.9,402.6 474.4,340.0 476.4,312.0 481.4,260.0 486.4,207.5 491.6,160.0 497.5,108.0 503.8,104.1"/>
<polyline fill="none" stroke="#000" stroke-width="4.2" stroke-linejoin="round" stroke-linecap="round" points="553.8,104.1 560.0,125.0 562.5,140.0 563.8,160.0 567.5,197.5 572.5,255.1 577.5,310.1 580.8,343.0 585.0,390.0 587.7,415.0 591.3,460.1 592.9,480.0 595.5,500.0 599.3,526.0 603.8,560.3 611.3,553.8 616.3,529.0 621.0,511.0 627.6,501.0 633.8,480.1 642.6,460.1 652.6,437.6 661.4,417.6 668.9,397.6 677.6,377.5 683.9,357.5 689.0,343.0 700.2,310.1 710.2,272.6 718.9,235.1 726.6,197.5 728.7,186.0 733.2,160.0 735.0,150.0 737.5,143.0 744.5,137.6 746.3,130.0 748.8,118.4 753.8,115.0 759.6,104.1"/>
<g stroke="#000" stroke-width="3.8">
<line x1="105.3" y1="104.3" x2="305" y2="104.3"/>
<line x1="503" y1="104.1" x2="554.5" y2="104.1"/>
<line x1="759" y1="104.1" x2="939" y2="104.1"/>
</g>
<rect x="146.5" y="223.5" width="140.2" height="133.7" fill="#fff" stroke="#000" stroke-width="1.25"/>

<use href="#body" x="213.9" y="281.1"/>
<ellipse cx="232" cy="244.4" rx="10.3" ry="11" fill="url(#gS1)"/><use href="#rstar" x="235.6" y="243.8"/>
<use href="#deco" x="213.9" y="281.1"/>
<rect x="172.3" y="416.5" width="138.6" height="132.7" fill="#fff" stroke="#000" stroke-width="1.25"/>

<use href="#body" x="246.4" y="480.1"/>
<ellipse cx="188.1" cy="465.1" rx="13.2" ry="10.6" fill="url(#gS3)"/><use href="#rstar" x="188" y="465.6"/>
<use href="#deco" x="246.4" y="480.1"/>
<rect x="766.8" y="208.0" width="248.9" height="125.2" fill="#fff" stroke="#000" stroke-width="1.25"/>

<use href="#body" x="946.2" y="263.1"/>
<ellipse cx="782.5" cy="292.6" rx="13.2" ry="10.7" fill="url(#gS2)"/><use href="#rstar" x="782.3" y="292.8"/><path d="M883.3 256.5 q-2.6 9 -0.6 20.5 q1.6 -3 2.3 -4 q-0.6 -8 0.8 -15z" fill="#000"/>
<use href="#deco" x="946.2" y="263.1"/>
<rect x="740.3" y="375.5" width="190.1" height="122.4" fill="#fff" stroke="#000" stroke-width="1.25"/>

<use href="#body" x="863.9" y="428.3"/>
<ellipse cx="757" cy="430.9" rx="13.2" ry="10.7" fill="url(#gS2)"/><use href="#rstar" x="756.8" y="431"/><g clip-path="url(#cB4)"><path d="M 852.8 407.6 C 853 400, 862 397.5, 868 396 C 876 393.5, 883 390, 890 387 L 935 375 L 935 404 C 915 403, 900 405.5, 891 407.6 C 880 411, 868 414.5, 860 414 C 855 413.5, 852.8 411, 852.8 407.6 Z" fill="#000" filter="url(#blur0)"/></g>
<use href="#deco" x="863.9" y="428.3"/>
<defs><clipPath id="cB4"><ellipse cx="863.9" cy="428.3" rx="65.3" ry="48.5" transform="rotate(-13 863.9 428.3)"/></clipPath><filter id="blur0"><feGaussianBlur stdDeviation="0.7"/></filter></defs>
<line x1="217.6" y1="223.5" x2="307.2" y2="166.1" stroke="#000" stroke-width="3.5"/>
<polygon points="314.8,161.2 309.0,170.6 303.8,162.6" fill="#000"/>
<line x1="241.9" y1="417.5" x2="455.6" y2="327.4" stroke="#000" stroke-width="3.5"/>
<polygon points="463.9,323.9 456.6,332.2 452.8,323.4" fill="#000"/>
<line x1="890.6" y1="208.8" x2="762.8" y2="151.4" stroke="#000" stroke-width="3.5"/>
<polygon points="754.6,147.7 765.7,147.4 761.8,156.2" fill="#000"/>
<line x1="740.3" y1="436.3" x2="605.6" y2="369.0" stroke="#000" stroke-width="3.5"/>
<polygon points="597.5,365.0 608.6,365.2 604.3,373.8" fill="#000"/>
</svg></body></html>
